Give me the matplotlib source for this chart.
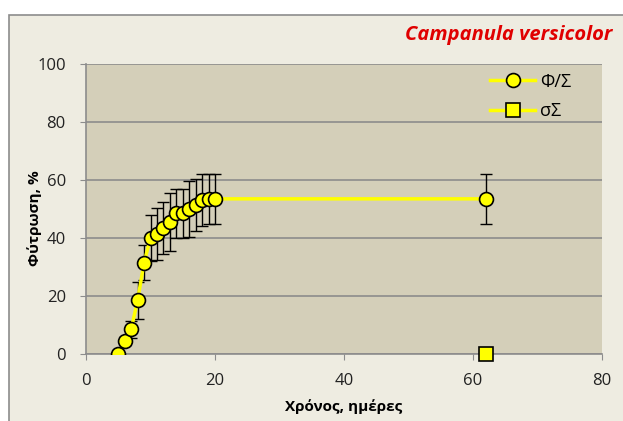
import matplotlib.pyplot as plt
from matplotlib.patches import Rectangle

# germination data (days, % germinated, error)
days = [5, 6, 7, 8, 9, 10, 11, 12, 13, 14, 15, 16, 17, 18, 19, 20, 62]
germ = [0, 4.5, 8.5, 18.5, 31.5, 40, 41.5, 43.5, 45.5, 48.5, 48.5, 50, 51.5, 53, 53.5, 53.5, 53.5]
err = [0, 1.5, 3, 6.5, 6, 8, 9, 9, 10, 8.5, 8.5, 9.5, 9, 9, 8.5, 8.5, 8.5]

sigma_days = [62]
sigma_vals = [0]

plt.rcParams['font.family'] = ['Open Sans', 'DejaVu Sans']

fig = plt.figure(figsize=(6.23, 4.21), dpi=100)
fig.patch.set_facecolor('white')
# outer chart area
fig.patches.append(Rectangle((9 / 623, -0.01), 1.0, 1 - 15 / 421 + 0.01,
                             transform=fig.transFigure, facecolor='#EEECE1',
                             edgecolor='#8C8C8C', linewidth=1.2, zorder=-5))

ax = fig.add_axes([86 / 623, 67 / 421, 516 / 623, 290 / 421])
ax.set_facecolor('#D4CFB9')

ax.errorbar(days, germ, yerr=err, fmt='none', ecolor='black', elinewidth=1,
            capsize=4, capthick=1, zorder=2)
ax.plot(days, germ, color='#FFFF00', lw=2.5, marker='o', ms=10,
        markerfacecolor='#FFFF00', markeredgecolor='black', mew=1.2,
        label='Φ/Σ', zorder=3)
ax.plot(sigma_days, sigma_vals, color='#FFFF00', lw=2.5, marker='s', ms=9.5,
        markerfacecolor='#FFFF00', markeredgecolor='black', mew=1.2,
        label='σΣ', zorder=3, clip_on=False)

ax.set_xlim(0, 80)
ax.set_ylim(0, 100)
ax.set_xticks([0, 20, 40, 60, 80])
ax.set_yticks([0, 20, 40, 60, 80, 100])
ax.yaxis.grid(True, color='#8C8C8C', lw=1.2)
ax.set_axisbelow(True)
for s in ['top', 'right']:
    ax.spines[s].set_visible(False)
for s in ['left', 'bottom']:
    ax.spines[s].set_color('#8C8C8C')
    ax.spines[s].set_linewidth(1.2)
ax.tick_params(direction='out', length=4.5, color='#8C8C8C', labelsize=12,
               labelcolor='#222222')
ax.tick_params(axis='y', pad=10)
ax.tick_params(axis='x', pad=9)

ax.set_xlabel('Χρόνος, ημέρες', fontsize=11, fontweight='bold')
ax.set_ylabel('Φύτρωση, %', fontsize=11, fontweight='bold')
ax.xaxis.set_label_coords(0.5, -0.155)
ax.yaxis.set_label_coords(-0.086, 0.47)

leg = ax.legend(loc='upper left', bbox_to_anchor=(0.783, 0.97), frameon=False,
                fontsize=13, handlelength=2.5, handletextpad=0.25,
                labelspacing=0.65, borderpad=0, borderaxespad=0)

fig.text(612 / 623, 1 - 35 / 421, 'Campanula versicolor', color='#E00000',
         fontsize=14.5, fontweight='bold', fontstyle='italic', ha='right',
         va='center')

fig.savefig('out.png', dpi=100)
